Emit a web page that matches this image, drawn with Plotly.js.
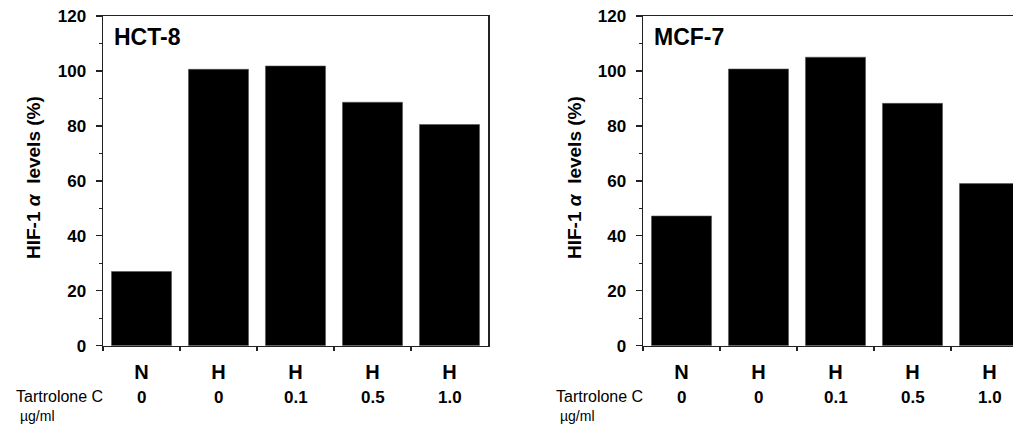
<!DOCTYPE html>
<html><head><meta charset="utf-8">
<script src="https://cdn.plot.ly/plotly-3.0.1.min.js"></script>
<style>html,body{margin:0;padding:0;overflow:hidden;background:#fff}</style>
</head><body>
<div id="chart" style="width:1030px;height:428px"></div>
<script>
// Data
const categories = ['c0','c1','c2','c3','c4'];
const conditionLabels = ['N','H','H','H','H'];
const doseLabels = ['0','0','0.1','0.5','1.0'];
const hct8Values = [27.0, 100.6, 101.8, 88.6, 80.5];
const mcf7Values = [47.2, 100.7, 105.0, 88.2, 59.0];
const panelTitles = ['HCT-8','MCF-7'];

const W = 1030, H = 428;
const px = v => v / W;
const py = v => (H - v) / H;
const FONT = 'Arial, "Liberation Sans", sans-serif';

const bar = (vals, xa, ya) => ({
  type: 'bar', x: categories, y: vals, xaxis: xa, yaxis: ya,
  width: 0.78, marker: {color: '#000', line: {width: 0.6, color: '#555'}},
  hoverinfo: 'skip', showlegend: false
});

const xaxisBase = d => ({
  domain: d, type: 'category', range: [-0.5, 4.5],
  showline: true, linecolor: '#222', linewidth: 1.5, mirror: true,
  ticks: 'outside', tickson: 'boundaries', ticklen: 4, tickwidth: 1.3, tickcolor: '#222',
  tickmode: 'array', tickvals: categories, ticktext: conditionLabels,
  tickfont: {family: FONT, size: 20, color: '#000', weight: 'bold'},
  ticklabelstandoff: 8,
  showgrid: false, zeroline: false, fixedrange: true
});
const yaxisBase = (anchor) => ({
  domain: [py(345.7), py(16)], anchor: anchor, range: [0, 120],
  showline: true, linecolor: '#222', linewidth: 1.5, mirror: true,
  ticks: 'outside', ticklen: 6, tickwidth: 1.3, tickcolor: '#222',
  tickvals: [0,20,40,60,80,100,120],
  minor: {dtick: 10, ticks: 'outside', ticklen: 3, tickwidth: 1, tickcolor: '#222'},
  tickfont: {family: FONT, size: 17, color: '#000', weight: 'bold'},
  ticklabelstandoff: 6,
  showgrid: false, zeroline: false, fixedrange: true
});

const annotations = [];
const xrefs = ['x', 'x2'];
const yTitleX = [33, 574];
const tartX = [14, 554];
const panelX = [112, 652];
for (let p = 0; p < 2; p++) {
  categories.forEach((c, i) => {
    annotations.push({xref: xrefs[p], yref: 'paper', x: c, y: py(397), yanchor: 'middle',
      text: '<b>' + doseLabels[i] + '</b>', showarrow: false,
      font: {family: FONT, size: 17, color: '#000'}});
  });
  annotations.push({xref: 'paper', yref: 'paper', x: px(yTitleX[p]), y: py(178), textangle: -90,
    xanchor: 'center', yanchor: 'middle', showarrow: false,
    text: '<b>HIF-1</b> <b><i>α</i></b><b>  levels (%)</b>',
    font: {family: FONT, size: 19, color: '#000'}});
  annotations.push({xref: 'paper', yref: 'paper', x: px(tartX[p]), y: py(396), xanchor: 'left', yanchor: 'middle',
    showarrow: false, text: 'Tartrolone C', font: {family: FONT, size: 16, color: '#000'}});
  annotations.push({xref: 'paper', yref: 'paper', x: px(tartX[p] + 4), y: py(416), xanchor: 'left', yanchor: 'middle',
    showarrow: false, text: 'µg/ml', font: {family: FONT, size: 14, color: '#000'}});
  annotations.push({xref: 'paper', yref: 'paper', x: px(panelX[p]), y: py(37), xanchor: 'left', yanchor: 'middle',
    showarrow: false, text: '<b>' + panelTitles[p] + '</b>', font: {family: FONT, size: 23, color: '#000'}});
}

const layout = {
  width: W, height: H, margin: {l: 0, r: 0, t: 0, b: 0},
  paper_bgcolor: '#fff', plot_bgcolor: '#fff',
  xaxis: Object.assign(xaxisBase([px(103), px(488)]), {anchor: 'y'}),
  yaxis: yaxisBase('x'),
  xaxis2: Object.assign(xaxisBase([px(643), px(1028)]), {anchor: 'y2'}),
  yaxis2: yaxisBase('x2'),
  annotations: annotations,
  showlegend: false, bargap: 0
};

Plotly.newPlot('chart', [bar(hct8Values, 'x', 'y'), bar(mcf7Values, 'x2', 'y2')], layout,
  {displayModeBar: false, staticPlot: true});
</script>
</body></html>
